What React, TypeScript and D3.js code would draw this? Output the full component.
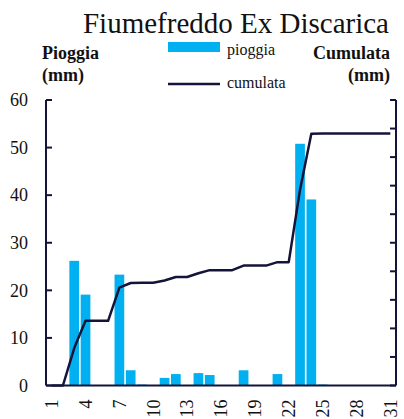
import React from 'react'
import * as d3 from 'd3'

// days of the month
const days = d3.range(1, 32).map(String)
// daily rain (mm)
const pioggia = [0, 0, 26.2, 19.1, 0, 0, 23.3, 3.2, 0.2, 0, 1.6, 2.4, 0, 2.6, 2.2, 0, 0, 3.2, 0, 0, 2.4, 0, 50.8, 39.1, 0.2, 0, 0, 0, 0, 0, 0]
const tickDays = ['1', '4', '7', '10', '13', '16', '19', '22', '25', '28', '31']
const leftTicks = [0, 10, 20, 30, 40, 50, 60]
const rightTicks = d3.range(0, 201, 20)

const W = 404, H = 419
const left = 46, right = 396, top = 100, bottom = 385.5
const navy = '#14143a'
const blue = '#00b0f0'
const font = '"Liberation Serif", serif'

const App = () => {
    // cumulative sum for the line
    const cumulata = Array.from(d3.cumsum(pioggia))

    const x = d3.scaleBand().domain(days).range([left, right]).paddingInner(0.14).paddingOuter(0.07)
    const yL = d3.scaleLinear().domain([0, 60]).range([bottom, top])
    const yR = d3.scaleLinear().domain([0, 200]).range([bottom, top])
    const cx = (d: string) => (x(d) as number) + x.bandwidth() / 2

    const line = d3.line<number>()
        .x((_, i) => cx(days[i]))
        .y(d => yR(d))

    return (
        <svg width={W} height={H} style={{ position: 'absolute', left: 0, top: 0, fontFamily: font }}>
            <rect width={W} height={H} fill="white" />
            <text x={236} y={33} textAnchor="middle" fontSize={29} fill="#111">Fiumefreddo Ex Discarica</text>

            <text x={42} y={59} fontSize={18} fontWeight="bold" fill="#111">Pioggia</text>
            <text x={42} y={81} fontSize={18} fontWeight="bold" fill="#111">(mm)</text>
            <text x={390} y={59} fontSize={18} fontWeight="bold" fill="#111" textAnchor="end">Cumulata</text>
            <text x={390} y={81} fontSize={18} fontWeight="bold" fill="#111" textAnchor="end">(mm)</text>

            {/* legend */}
            <rect x={168} y={42} width={52} height={10} fill={blue} />
            <text x={227} y={55} fontSize={16} fill="#111">pioggia</text>
            <line x1={168} x2={220} y1={84} y2={84} stroke={navy} strokeWidth={2.5} />
            <text x={227} y={88} fontSize={16} fill="#111">cumulata</text>

            {/* bars */}
            {pioggia.map((v, i) => (
                <rect key={i} x={x(days[i])} y={yL(v)} width={x.bandwidth()} height={bottom - yL(v)} fill={blue} />
            ))}

            {/* cumulative line */}
            <path d={line(cumulata) || ''} fill="none" stroke={navy} strokeWidth={2.5} strokeLinejoin="round" />

            {/* axes */}
            <line x1={left} x2={left} y1={top} y2={bottom} stroke={navy} strokeWidth={2} />
            <line x1={right} x2={right} y1={top} y2={bottom} stroke={navy} strokeWidth={2} />
            <line x1={left} x2={right} y1={bottom} y2={bottom} stroke={navy} strokeWidth={2} />
            {leftTicks.map(t => (
                <g key={t}>
                    <line x1={left} x2={left + 6} y1={yL(t)} y2={yL(t)} stroke={navy} strokeWidth={2} />
                    <text x={28} y={yL(t)} dy="0.35em" textAnchor="end" fontSize={18} fill="#111">{t}</text>
                </g>
            ))}
            {rightTicks.map(t => (
                <line key={t} x1={right - 6} x2={right} y1={yR(t)} y2={yR(t)} stroke={navy} strokeWidth={2} />
            ))}
            {tickDays.map(d => (
                <text key={d} transform={`translate(${cx(d)},${bottom + 14}) rotate(-90)`} textAnchor="end" dy="0.35em" fontSize={18} fill="#111">{d}</text>
            ))}
        </svg>
    )
}

export default App
